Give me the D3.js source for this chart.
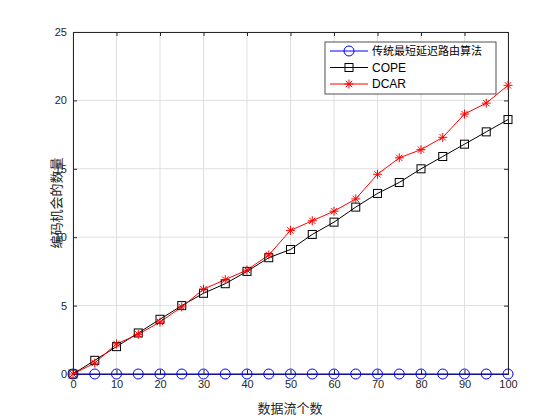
<!DOCTYPE html><html><head><meta charset="utf-8"><script src="https://cdn.jsdelivr.net/npm/d3@7"></script>
<style>body{margin:0;background:#fff}svg{display:block}</style></head><body><svg id="c" width="560" height="420"></svg>
<script>
const xs=[0,5,10,15,20,25,30,35,40,45,50,55,60,65,70,75,80,85,90,95,100];
const trad=xs.map(()=>0);
const cope=[0,1,2,3,4,5,5.9,6.6,7.5,8.5,9.1,10.2,11.1,12.2,13.2,14.0,15.0,15.9,16.8,17.7,18.6];
const dcar=[0,0.8,2.2,2.9,3.8,4.9,6.2,6.9,7.6,8.7,10.5,11.2,11.9,12.8,14.6,15.8,16.4,17.3,19.0,19.8,21.1];
const xTicks=[0,10,20,30,40,50,60,70,80,90,100];
const yTicks=[0,5,10,15,20,25];
const names=["传统最短延迟路由算法","COPE","DCAR"];
const svg=d3.select("#c");
const L=73,R=508,T=32,B=374;
const x=d3.scaleLinear().domain([0,100]).range([L,R]);
const y=d3.scaleLinear().domain([0,25]).range([B,T]);
const g=svg.append("g");
g.append("rect").attr("x",L).attr("y",T).attr("width",R-L).attr("height",B-T).attr("fill","#fff");
xTicks.forEach(t=>g.append("line").attr("x1",x(t)).attr("x2",x(t)).attr("y1",T).attr("y2",B).attr("stroke","#dfdfdf"));
yTicks.forEach(t=>g.append("line").attr("x1",L).attr("x2",R).attr("y1",y(t)).attr("y2",y(t)).attr("stroke","#dfdfdf"));
svg.append("g").attr("transform",`translate(0,${B})`).call(d3.axisBottom(x).tickValues(xTicks).tickSize(-4).tickPadding(6));
svg.append("g").attr("transform",`translate(${L},0)`).call(d3.axisLeft(y).tickValues(yTicks).tickSize(-4).tickPadding(6));
svg.append("g").attr("transform",`translate(0,${T})`).call(d3.axisTop(x).tickValues(xTicks).tickSize(-4).tickFormat(""));
svg.append("g").attr("transform",`translate(${R},0)`).call(d3.axisRight(y).tickValues(yTicks).tickSize(-4).tickFormat(""));
svg.selectAll(".domain,.tick line").attr("stroke","#262626");
svg.selectAll(".tick text").attr("font-family","Liberation Sans, Arial").attr("font-size",11).attr("fill","#262626");
const line=d3.line().x((d,i)=>x(xs[i])).y(d=>y(d));
const cols=["#0000ff","#000000","#ff0000"];
[trad,cope,dcar].forEach((s,k)=>{
 svg.append("path").datum(s).attr("d",line).attr("fill","none").attr("stroke",cols[k]).attr("stroke-width",1);
});
function marker(sel,k,cx,cy){
 if(k==0) sel.append("circle").attr("cx",cx).attr("cy",cy).attr("r",5).attr("fill","none").attr("stroke",cols[0]);
 else if(k==1) sel.append("rect").attr("x",cx-4).attr("y",cy-4).attr("width",8).attr("height",8).attr("fill","none").attr("stroke","#000");
 else { const r=4.5; [0,45,90,135].forEach(a=>{const dx=r*Math.cos(a*Math.PI/180),dy=r*Math.sin(a*Math.PI/180);
   sel.append("line").attr("x1",cx-dx).attr("x2",cx+dx).attr("y1",cy-dy).attr("y2",cy+dy).attr("stroke","#ff0000");});}
}
[trad,cope,dcar].forEach((s,k)=>s.forEach((v,i)=>marker(svg,k,x(xs[i]),y(v))));
const lg=svg.append("g");
lg.append("rect").attr("x",325).attr("y",42).attr("width",171).attr("height",52).attr("fill","#fff").attr("stroke","#262626").attr("stroke-width",0.8);
names.forEach((n,k)=>{const cy=51+k*16.5;
 lg.append("line").attr("x1",330).attr("x2",368).attr("y1",cy).attr("y2",cy).attr("stroke",cols[k]);
 marker(lg,k,349,cy);
 lg.append("text").attr("x",372).attr("y",cy+4).text(n).attr("font-size",k==0?11:12).attr("font-family",k==0?"Noto Sans CJK SC":"Liberation Sans, Arial").attr("fill","#000");
});
svg.append("text").attr("x",290).attr("y",413).attr("text-anchor","middle").attr("font-family","Noto Sans CJK SC").attr("font-size",13).attr("fill","#262626").text("数据流个数");
svg.append("text").attr("transform","translate(61,203) rotate(-90)").attr("text-anchor","middle").attr("font-family","Noto Sans CJK SC").attr("font-size",13).attr("fill","#262626").text("编码机会的数量");
</script></body></html>
